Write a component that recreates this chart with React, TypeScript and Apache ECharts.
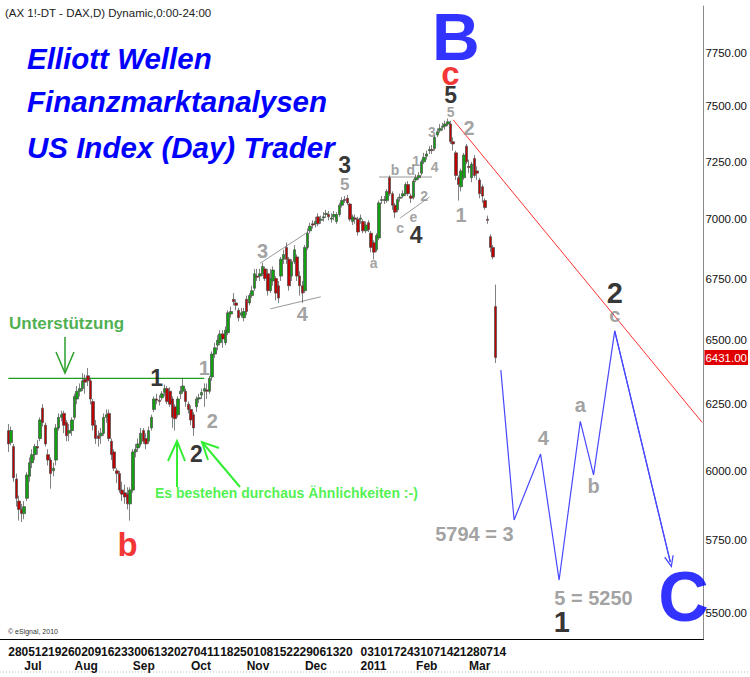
import React, { useEffect, useRef } from 'react';
import * as echarts from 'echarts';

const FONT = '"Liberation Sans", Arial, sans-serif';

// ---------- data ----------
const HOLIDAYS = ['2010-12-24', '2010-12-31'];
const SLOT_COUNT = 263;

// [open, close, low, high] per trading day from 2010-06-28
const candles: number[][] = [
  [6150, 6100, 6070, 6175], [6105, 6150, 6095, 6165], [6090, 5975, 5960, 6100], [5970, 5900, 5870, 5990], [5890, 5860, 5820, 5910],
  [5860, 5845, 5815, 5880], [5845, 5870, 5825, 5890], [5900, 5985, 5890, 5995], [5980, 6030, 5960, 6050], [6030, 6060, 6010, 6080],
  [6060, 6090, 6040, 6100], [6090, 6085, 6060, 6115], [6120, 6190, 6110, 6200], [6235, 6180, 6165, 6250], [6170, 6100, 6090, 6180],
  [6060, 6040, 6020, 6080], [6040, 5990, 5935, 6050], [6000, 6010, 5980, 6030], [6040, 6160, 6020, 6175], [6160, 6200, 6150, 6215],
  [6200, 6210, 6185, 6225], [6215, 6170, 6140, 6225], [6180, 6130, 6110, 6190], [6140, 6150, 6110, 6175], [6150, 6190, 6130, 6200],
  [6200, 6280, 6190, 6290], [6270, 6300, 6250, 6320], [6300, 6310, 6280, 6330], [6310, 6340, 6300, 6370], [6345, 6335, 6290, 6365],
  [6360, 6340, 6320, 6390], [6340, 6270, 6250, 6350], [6260, 6170, 6150, 6270], [6170, 6120, 6100, 6190], [6130, 6120, 6090, 6150],
  [6130, 6140, 6100, 6160], [6140, 6200, 6130, 6215], [6200, 6210, 6180, 6230], [6215, 6120, 6110, 6230], [6110, 6060, 6040, 6120],
  [6070, 6010, 6000, 6080], [6000, 5990, 5955, 6010], [5990, 5930, 5920, 6000], [5930, 5915, 5890, 5960], [5920, 5905, 5880, 5950],
  [5915, 5880, 5860, 5940], [5880, 5930, 5820, 5940], [5930, 6070, 5920, 6080], [6070, 6080, 6050, 6100], [6085, 6100, 6070, 6120],
  [6100, 6140, 6090, 6160], [6150, 6110, 6100, 6160], [6120, 6100, 6080, 6140], [6110, 6150, 6100, 6165], [6160, 6200, 6150, 6210],
  [6230, 6270, 6220, 6280], [6270, 6265, 6250, 6290], [6265, 6260, 6245, 6285], [6275, 6290, 6265, 6300], [6295, 6310, 6280, 6325],
  [6310, 6260, 6250, 6320], [6300, 6250, 6240, 6315], [6270, 6200, 6160, 6280], [6240, 6195, 6150, 6250], [6210, 6270, 6200, 6280],
  [6290, 6300, 6270, 6320], [6300, 6320, 6290, 6350], [6300, 6260, 6240, 6310], [6250, 6230, 6215, 6260], [6230, 6190, 6170, 6245],
  [6210, 6160, 6130, 6220], [6240, 6270, 6220, 6280], [6270, 6275, 6255, 6290], [6285, 6295, 6270, 6310], [6300, 6310, 6240, 6330],
  [6305, 6300, 6270, 6330], [6300, 6350, 6290, 6360], [6355, 6445, 6340, 6455], [6445, 6470, 6430, 6490], [6480, 6500, 6460, 6520],
  [6490, 6525, 6480, 6540], [6525, 6505, 6470, 6540], [6490, 6540, 6480, 6555], [6530, 6610, 6520, 6620], [6605, 6615, 6590, 6635],
  [6665, 6655, 6640, 6690], [6650, 6640, 6620, 6665], [6620, 6590, 6575, 6630], [6600, 6610, 6590, 6630], [6590, 6615, 6575, 6630],
  [6665, 6615, 6600, 6680], [6650, 6680, 6640, 6690], [6680, 6700, 6670, 6720], [6710, 6770, 6700, 6790], [6760, 6755, 6740, 6790],
  [6760, 6770, 6740, 6790], [6770, 6800, 6760, 6815], [6790, 6750, 6740, 6800], [6770, 6700, 6680, 6790], [6700, 6750, 6690, 6790],
  [6740, 6785, 6720, 6800], [6750, 6690, 6660, 6760], [6720, 6670, 6650, 6740], [6760, 6830, 6740, 6840], [6830, 6850, 6810, 6870],
  [6880, 6830, 6810, 6900], [6830, 6720, 6700, 6840], [6760, 6820, 6740, 6830], [6820, 6870, 6810, 6890], [6840, 6760, 6740, 6850],
  [6760, 6720, 6680, 6780], [6720, 6690, 6650, 6740], [6700, 6880, 6690, 6890], [6880, 6940, 6870, 6960], [6950, 6970, 6940, 6985],
  [6980, 6975, 6960, 6995], [6980, 6990, 6965, 7010], [7010, 6980, 6970, 7025], [6995, 7000, 6980, 7015], [7005, 7010, 6990, 7030],
  [7020, 7025, 7005, 7040], [7020, 7010, 6995, 7035], [7000, 7005, 6985, 7025], [7010, 7020, 6995, 7035], [6990, 7020, 6980, 7030],
  [7020, 7060, 7010, 7070], [7060, 7080, 7050, 7095], [7085, 7080, 7070, 7100], [7090, 7070, 7060, 7105],
  [7065, 7000, 6990, 7070], [6990, 7010, 6975, 7020], [7005, 7000, 6980, 7020], [7000, 6945, 6930, 7010],
  [7000, 7005, 6980, 7020], [6990, 6950, 6940, 7000], [6950, 6975, 6940, 6990], [6985, 6955, 6945, 6995], [6940, 6880, 6860, 6950],
  [6900, 6860, 6830, 6910], [6870, 6930, 6860, 6940], [6920, 7070, 6910, 7080], [7080, 7085, 7065, 7100], [7085, 7080, 7065, 7100],
  [7080, 7120, 7070, 7130], [7180, 7110, 7100, 7190], [7110, 7060, 7040, 7120], [7060, 7030, 7005, 7070], [7040, 7085, 7030, 7095],
  [7090, 7095, 7075, 7110], [7100, 7110, 7090, 7125], [7110, 7150, 7100, 7160], [7150, 7110, 7100, 7165], [7100, 7090, 7070, 7110],
  [7095, 7165, 7085, 7175], [7170, 7180, 7160, 7195], [7180, 7190, 7170, 7205], [7200, 7250, 7190, 7260], [7250, 7270, 7240, 7290],
  [7275, 7285, 7260, 7300], [7300, 7305, 7285, 7320], [7305, 7300, 7285, 7325], [7310, 7360, 7300, 7370], [7370, 7385, 7360, 7400],
  [7390, 7400, 7380, 7420], [7405, 7410, 7390, 7425], [7410, 7420, 7395, 7435], [7420, 7430, 7410, 7445], [7420, 7340, 7330, 7435],
  [7340, 7330, 7300, 7360], [7290, 7190, 7170, 7300], [7180, 7150, 7080, 7190], [7140, 7210, 7120, 7220], [7180, 7280, 7170, 7290],
  [7320, 7250, 7240, 7330], [7230, 7225, 7200, 7260], [7180, 7240, 7160, 7250], [7265, 7190, 7180, 7280], [7210, 7200, 7170, 7230],
  [7170, 7110, 7090, 7180], [7140, 7100, 7070, 7150], [7080, 7050, 7040, 7090], [7000, 6995, 6980, 7015], [6925, 6880, 6860, 6935],
  [6880, 6840, 6830, 6890], [6635, 6431, 6410, 6725],
];

const dayTicks = [
  '2010-06-28', '2010-07-05', '2010-07-12', '2010-07-19', '2010-07-26', '2010-08-02', '2010-08-09', '2010-08-16',
  '2010-08-23', '2010-08-30', '2010-09-06', '2010-09-13', '2010-09-20', '2010-09-27', '2010-10-04', '2010-10-11',
  '2010-10-18', '2010-10-25', '2010-11-01', '2010-11-08', '2010-11-15', '2010-11-22', '2010-11-29', '2010-12-06',
  '2010-12-13', '2010-12-20', '2011-01-03', '2011-01-10', '2011-01-17', '2011-01-24', '2011-01-31', '2011-02-07',
  '2011-02-14', '2011-02-21', '2011-02-28', '2011-03-07', '2011-03-14',
];
const monthTicks: [string, string][] = [
  ['2010-07-06', 'Jul'], ['2010-08-02', 'Aug'], ['2010-09-01', 'Sep'], ['2010-10-01', 'Oct'], ['2010-11-01', 'Nov'],
  ['2010-12-01', 'Dec'], ['2011-01-03', '2011'], ['2011-02-01', 'Feb'], ['2011-03-01', 'Mar'],
];
const priceTicks = [5500, 5750, 6000, 6250, 6500, 6750, 7000, 7250, 7500, 7750];
const lastPrice = 6431;

const supportLine = [[0, 6350], [74, 6350]];
const trendLine = [[168, 7439], [262, 6181]];
const projection = [[186, 6382], [191, 5822], [201, 6062], [208, 5612], [216, 6185], [221, 5985], [229, 6537], [250, 5674]];
const channelLines = [
  [[95, 6813], [113, 6944]],
  [[99, 6626], [118, 6675]],
  [[140, 7183], [160, 7183]],
  [[148, 7005], [159, 7095]],
];

const annotations = [
  { text: 'B', slot: 169, price: 7826, kind: 'degreeB' },
  { text: 'c', slot: 167, price: 7651, kind: 'red' },
  { text: '5', slot: 167, price: 7553, kind: 'black' },
  { text: '5', slot: 167, price: 7475, kind: 'greyS' },
  { text: 'C', slot: 255, price: 5555, kind: 'degreeC' },
  { text: '1', slot: 56, price: 6352, kind: 'black' },
  { text: '1', slot: 74, price: 6391, kind: 'grey' },
  { text: '2', slot: 77, price: 6187, kind: 'grey' },
  { text: '2', slot: 71, price: 6063, kind: 'black' },
  { text: '3', slot: 96, price: 6864, kind: 'grey' },
  { text: '4', slot: 111, price: 6605, kind: 'grey' },
  { text: '3', slot: 127, price: 7236, kind: 'black' },
  { text: '5', slot: 127, price: 7148, kind: 'greyM' },
  { text: 'a', slot: 138, price: 6815, kind: 'greyS' },
  { text: 'b', slot: 146, price: 7214, kind: 'greyS' },
  { text: 'c', slot: 148, price: 6962, kind: 'greyS' },
  { text: 'd', slot: 152, price: 7214, kind: 'greyS' },
  { text: 'e', slot: 153, price: 7010, kind: 'greyS' },
  { text: '1', slot: 154, price: 7254, kind: 'greyS' },
  { text: '2', slot: 157, price: 7100, kind: 'greyS' },
  { text: '3', slot: 160, price: 7384, kind: 'greyS' },
  { text: '4', slot: 161, price: 7227, kind: 'greyS' },
  { text: '4', slot: 154, price: 6932, kind: 'black' },
  { text: '2', slot: 174, price: 7403, kind: 'grey' },
  { text: '1', slot: 171, price: 7019, kind: 'grey' },
  { text: '2', slot: 229, price: 6692, kind: 'blackL' },
  { text: 'c', slot: 229, price: 6599, kind: 'grey' },
  { text: '4', slot: 202, price: 6122, kind: 'grey' },
  { text: 'a', slot: 216, price: 6248, kind: 'grey' },
  { text: 'b', slot: 221, price: 5946, kind: 'grey' },
  { text: '5794 = 3', slot: 176, price: 5774, kind: 'grey' },
  { text: '5 = 5250', slot: 221, price: 5552, kind: 'grey' },
  { text: '1', slot: 209, price: 5471, kind: 'blackL' },
  { text: 'b', slot: 45, price: 5735, kind: 'red' },
  { text: 'Unterstützung', slot: 22, price: 6567, kind: 'note' },
  { text: 'Es bestehen durchaus Ähnlichkeiten :-)', slot: 105, price: 5920, kind: 'noteLime' },
];

// ---------- styles ----------
const labelKinds: Record<string, { color: string; fontSize: number }> = {
  degreeB: { color: '#0000ff', fontSize: 66 },
  degreeC: { color: '#0000ff', fontSize: 70 },
  red: { color: '#f00000', fontSize: 33 },
  blackL: { color: '#000000', fontSize: 29 },
  black: { color: '#000000', fontSize: 23 },
  grey: { color: '#8a8a8a', fontSize: 20 },
  greyM: { color: '#8a8a8a', fontSize: 17 },
  greyS: { color: '#8a8a8a', fontSize: 14 },
  note: { color: '#1e9a1e', fontSize: 17 },
  noteLime: { color: '#22ee22', fontSize: 14 },
};

const CHEVRON = 'path://M0,10 L5,0 L10,10 L8.6,10 L5,2.8 L1.4,10 Z';

function buildDates(): string[] {
  const out: string[] = [];
  const d = new Date(Date.UTC(2010, 5, 28));
  while (out.length < SLOT_COUNT) {
    const wd = d.getUTCDay();
    const s = d.toISOString().slice(0, 10);
    if (wd !== 0 && wd !== 6 && !HOLIDAYS.includes(s)) out.push(s);
    d.setUTCDate(d.getUTCDate() + 1);
  }
  return out;
}

function buildOption() {
  const dates = buildDates();
  const daySet = new Set(dayTicks);
  const monthMap = new Map(monthTicks);
  const axisFont = { fontFamily: FONT, fontWeight: 'bold' as const, fontSize: 12, color: '#111' };

  const lineSeries = (data: number[][], color: string, width = 1) => ({
    type: 'line',
    data,
    symbol: 'none',
    silent: true,
    z: 3,
    lineStyle: { color, width },
  });

  return {
    animation: false,
    backgroundColor: '#ffffff',
    grid: { left: 7, right: 43, top: 6, bottom: 38, containLabel: false },
    xAxis: [
      {
        type: 'category',
        data: dates,
        boundaryGap: true,
        axisLine: { show: true, lineStyle: { color: '#000', width: 1 } },
        axisTick: { show: false },
        splitLine: { show: false },
        axisLabel: {
          ...axisFont,
          interval: (_i: number, v: string) => daySet.has(v),
          formatter: (v: string) => v.slice(8, 10),
          align: 'left',
          margin: 7,
        },
      },
      {
        type: 'category',
        data: dates,
        boundaryGap: true,
        position: 'bottom',
        offset: 14,
        axisLine: { show: false },
        axisTick: { show: false },
        splitLine: { show: false },
        axisLabel: {
          ...axisFont,
          interval: (_i: number, v: string) => monthMap.has(v),
          formatter: (v: string) => monthMap.get(v) || '',
          align: 'left',
          margin: 7,
        },
      },
    ],
    yAxis: {
      type: 'log',
      logBase: 10,
      position: 'right',
      min: 5413,
      max: 7976,
      axisLine: { show: true, lineStyle: { color: '#8a8a8a', width: 1 } },
      axisTick: { show: false, customValues: priceTicks },
      splitLine: { show: false },
      axisLabel: {
        customValues: priceTicks,
        formatter: (v: number) => Number(v).toFixed(2),
        fontFamily: FONT,
        fontSize: 11.5,
        color: '#111',
        margin: 2,
      },
    },
    series: [
      {
        type: 'candlestick',
        data: candles,
        barWidth: 3,
        z: 4,
        itemStyle: {
          color: '#10a010',
          color0: '#c00000',
          borderColor: '#4a4a4a',
          borderColor0: '#4a4a4a',
          borderWidth: 0.7,
        },
        markLine: {
          silent: true,
          symbol: 'none',
          data: [{ yAxis: lastPrice }],
          lineStyle: { color: 'transparent', width: 0 },
          label: {
            show: true,
            position: 'end',
            distance: 1,
            formatter: lastPrice.toFixed(2),
            color: '#ffffff',
            backgroundColor: '#e00000',
            padding: [2, 1, 1, 1],
            fontFamily: FONT,
            fontSize: 11.5,
          },
        },
      },
      lineSeries(supportLine, '#1e9e1e', 1.2),
      lineSeries(trendLine, '#ff3030', 1),
      {
        ...lineSeries(projection, '#4848ff', 1.2),
        markLine: {
          silent: true,
          symbol: ['none', CHEVRON],
          symbolSize: [10, 12],
          label: { show: false },
          lineStyle: { color: '#4848ff', width: 1.2, type: 'solid' },
          itemStyle: { color: '#4848ff' },
          data: [[
            { coord: projection[projection.length - 2] },
            { coord: projection[projection.length - 1] },
          ]],
        },
      },
      ...channelLines.map((seg) => lineSeries(seg, '#9a9a9a', 1)),
      {
        type: 'scatter',
        silent: true,
        z: 6,
        symbolSize: 1,
        itemStyle: { color: 'rgba(0,0,0,0)' },
        data: annotations.map((a) => {
          const k = labelKinds[a.kind];
          return {
            value: [a.slot, a.price],
            label: {
              show: true,
              position: 'inside',
              formatter: a.text,
              color: k.color,
              fontSize: k.fontSize,
              lineHeight: Math.round(k.fontSize * 0.72),
              fontWeight: 'bold',
              fontFamily: FONT,
            },
          };
        }),
      },
    ],
    graphic: [
      {
        type: 'text', x: 5, y: 13, silent: true,
        style: { text: '(AX 1!-DT - DAX,D) Dynamic,0:00-24:00', fill: '#222', font: `11.5px ${FONT}`, align: 'left', verticalAlign: 'middle' },
      },
      {
        type: 'text', x: 27, y: 58, silent: true,
        style: { text: 'Elliott Wellen', fill: '#0000ff', font: `italic bold 29.5px ${FONT}`, align: 'left', verticalAlign: 'middle' },
      },
      {
        type: 'text', x: 27, y: 101, silent: true,
        style: { text: 'Finanzmarktanalysen', fill: '#0000ff', font: `italic bold 29.5px ${FONT}`, align: 'left', verticalAlign: 'middle' },
      },
      {
        type: 'text', x: 27, y: 147, silent: true,
        style: { text: 'US Index (Day) Trader', fill: '#0000ff', font: `italic bold 29.5px ${FONT}`, align: 'left', verticalAlign: 'middle' },
      },
      {
        type: 'text', x: 8, y: 631, silent: true,
        style: { text: '© eSignal, 2010', fill: '#333', font: `7px ${FONT}`, align: 'left', verticalAlign: 'middle' },
      },
      { type: 'polyline', silent: true, shape: { points: [[65, 337], [65, 373]] }, style: { stroke: '#2aa02a', lineWidth: 1.5, fill: 'none' } },
      { type: 'polyline', silent: true, shape: { points: [[56, 352], [65, 373], [74, 352]] }, style: { stroke: '#2aa02a', lineWidth: 1.5, fill: 'none' } },
      { type: 'polyline', silent: true, shape: { points: [[177, 487], [177, 441]] }, style: { stroke: '#33ee33', lineWidth: 2, fill: 'none' } },
      { type: 'polyline', silent: true, shape: { points: [[168, 461], [177, 441], [185, 461]] }, style: { stroke: '#33ee33', lineWidth: 2, fill: 'none' } },
      { type: 'polyline', silent: true, shape: { points: [[240, 487], [202, 442]] }, style: { stroke: '#33ee33', lineWidth: 2, fill: 'none' } },
      { type: 'polyline', silent: true, shape: { points: [[219, 448], [202, 442], [208, 460]] }, style: { stroke: '#33ee33', lineWidth: 2, fill: 'none' } },
      { type: 'line', silent: true, shape: { x1: 0, y1: 672, x2: 750, y2: 672 }, style: { stroke: '#bbbbbb', lineWidth: 1, lineDash: [1, 2] } },
      { type: 'line', silent: true, shape: { x1: 0, y1: 639.5, x2: 7, y2: 639.5 }, style: { stroke: '#000', lineWidth: 1 } },
    ],
  };
}

export default function App() {
  const ref = useRef<HTMLDivElement>(null);
  useEffect(() => {
    if (!ref.current) return;
    const chart = echarts.init(ref.current, null, { renderer: 'svg' });
    chart.setOption(buildOption() as any);
    return () => chart.dispose();
  }, []);
  return (
    <div
      ref={ref}
      style={{ position: 'fixed', left: 0, top: 0, width: 750, height: 677, background: '#ffffff' }}
    />
  );
}
